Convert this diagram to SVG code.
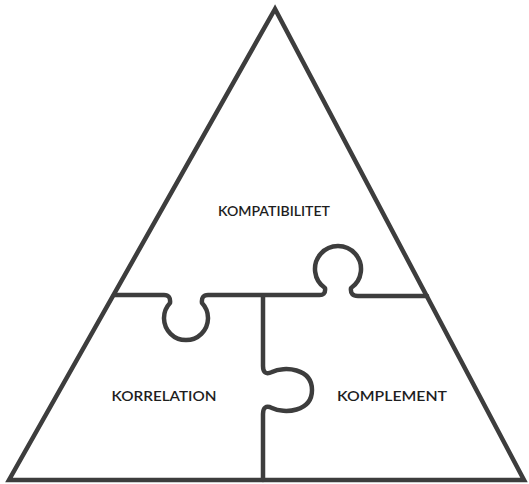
<svg xmlns="http://www.w3.org/2000/svg" width="529" height="484" viewBox="0 0 529 484">
  <style>
    .ln { fill: none; stroke: #3d3d3d; stroke-width: 4.5; stroke-linejoin: round; stroke-linecap: round; }
    .lbl { font-family: "Lato", "Liberation Sans", sans-serif; font-size: 14px; font-weight: 600; fill: #1e1e1e; text-anchor: middle; }
  </style>
  <rect width="529" height="484" fill="#fff"/>
  <g id="connectors">
    <polygon class="ln" style="stroke-linejoin:miter" points="275,9 9,480 524,480"/>
    <path class="ln" d="M114,295 H164 Q171,295 170,303 A22,22 0 1 0 202,303 Q201,295 208,295 H318 Q326,296 325,288 A23,23 0 1 1 351,288 Q350,296 358,296 H427"/>
    <path class="ln" d="M263,296 V366 Q263,376 272,372 C284,366 312,368 312,390 C312,412 284,414 272,408 Q263,404 263,414 V480"/>
  </g>
  <g id="kompatibilitet"><text class="lbl" x="274" y="216" textLength="112" lengthAdjust="spacingAndGlyphs">KOMPATIBILITET</text></g>
  <g id="korrelation"><text class="lbl" x="164" y="401" textLength="105" lengthAdjust="spacingAndGlyphs">KORRELATION</text></g>
  <g id="komplement"><text class="lbl" x="392" y="401" textLength="110" lengthAdjust="spacingAndGlyphs">KOMPLEMENT</text></g>
</svg>
